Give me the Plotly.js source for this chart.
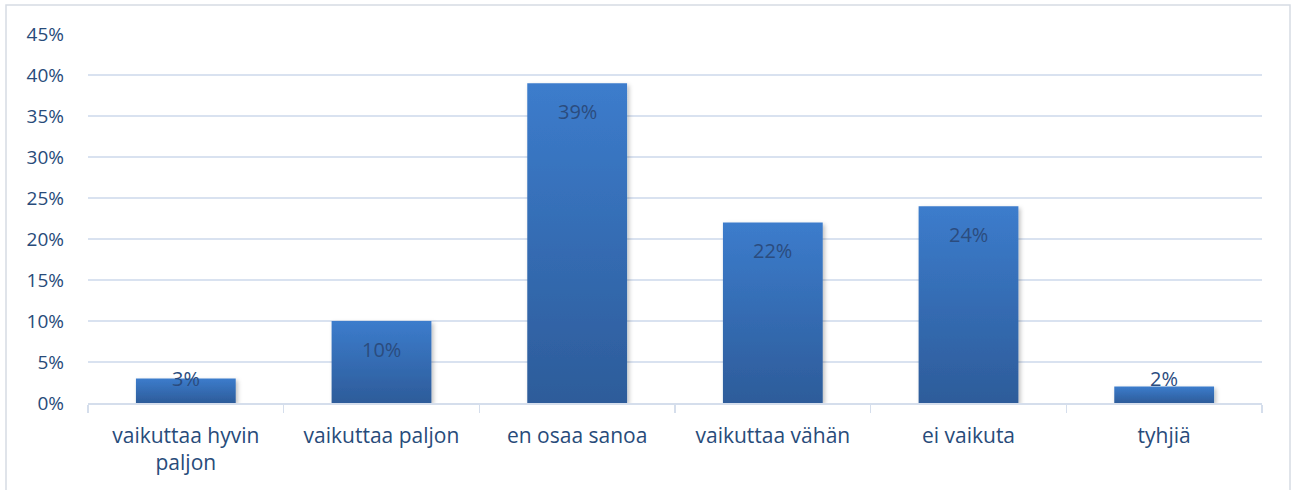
<!DOCTYPE html>
<html>
<head>
<meta charset="utf-8">
<script src="https://cdn.plot.ly/plotly-3.0.1.min.js"></script>
<style>html,body{margin:0;padding:0;background:#fff;}#chart{width:1292px;height:490px;}</style>
</head>
<body>
<div id="chart"></div>
<script>
const categories = ["vaikuttaa hyvin<br>paljon", "vaikuttaa paljon", "en osaa sanoa", "vaikuttaa vähän", "ei vaikuta", "tyhjiä"];
const values = [0.03, 0.10, 0.39, 0.22, 0.24, 0.02];
const labels = ["3%", "10%", "39%", "22%", "24%", "2%"];
const yTicks = [0, 0.05, 0.10, 0.15, 0.20, 0.25, 0.30, 0.35, 0.40, 0.45];
const yTickText = ["0%", "5%", "10%", "15%", "20%", "25%", "30%", "35%", "40%", "45%"];

const textColor = "#284B7A";
const fontFam = "Open Sans, Liberation Sans, sans-serif";

const L = 88, R = 30, T = 34, B = 87;
const W = 1292, H = 490;
const pw = W - L - R, ph = H - T - B;
const yMax = 0.45;

const trace = {
  type: "bar",
  x: categories,
  y: values,
  marker: {color: "#346AB5", line: {width: 0}},
  hoverinfo: "none"
};

// Labels sit just inside the bar top; short bars keep the label clear of the axis
const annotations = values.map(function (v, i) {
  const topPx = v / yMax * ph;          // bar height in pixels
  const shift = Math.max(-28, 25 - topPx);
  return {
    x: categories[i], y: v, xref: "x", yref: "y",
    text: labels[i], showarrow: false,
    yanchor: "middle", yshift: shift,
    font: {family: fontFam, size: 20, color: "#2B4C7E"}
  };
});

const layout = {
  width: W, height: H,
  margin: {l: L, r: R, t: T, b: B},
  paper_bgcolor: "#ffffff",
  plot_bgcolor: "#ffffff",
  showlegend: false,
  bargap: 0.49,
  font: {family: fontFam, color: textColor},
  xaxis: {
    type: "category",
    tickson: "boundaries",
    ticks: "outside",
    ticklen: 8,
    tickcolor: "#D5DEEC",
    tickwidth: 1.5,
    showline: true,
    linecolor: "#D5DEEC",
    linewidth: 1.5,
    showgrid: false,
    ticklabelstandoff: 13,
    tickfont: {family: fontFam, size: 21, color: textColor},
    automargin: false
  },
  yaxis: {
    range: [0, yMax],
    tickvals: yTicks,
    ticktext: yTickText,
    showgrid: true,
    gridcolor: "#D9E2F0",
    gridwidth: 1.5,
    zeroline: false,
    showline: false,
    ticks: "",
    ticklabelstandoff: 23,
    tickfont: {family: fontFam, size: 19, color: textColor},
    automargin: false
  },
  annotations: annotations,
  shapes: [{
    type: "rect", xref: "paper", yref: "paper",
    x0: (6 - L) / pw, x1: (1290 - L) / pw,
    y0: -(B + 20) / ph, y1: (H - 5 - B) / ph,
    line: {color: "#D6DCE4", width: 1.5},
    fillcolor: "rgba(0,0,0,0)",
    layer: "below"
  }]
};

Plotly.newPlot("chart", [trace], layout, {staticPlot: true}).then(function (gd) {
  const svg = gd.querySelector("svg.main-svg");
  const ns = "http://www.w3.org/2000/svg";
  let defs = svg.querySelector("defs");
  if (!defs) { defs = document.createElementNS(ns, "defs"); svg.insertBefore(defs, svg.firstChild); }
  const grad = document.createElementNS(ns, "linearGradient");
  grad.setAttribute("id", "barGrad");
  grad.setAttribute("x1", "0"); grad.setAttribute("y1", "0");
  grad.setAttribute("x2", "0"); grad.setAttribute("y2", "1");
  [["0%", "#3C7CCC"], ["100%", "#2D5C9A"]].forEach(function (s) {
    const st = document.createElementNS(ns, "stop");
    st.setAttribute("offset", s[0]); st.setAttribute("stop-color", s[1]);
    grad.appendChild(st);
  });
  defs.appendChild(grad);
  const filt = document.createElementNS(ns, "filter");
  filt.setAttribute("id", "barShadow");
  filt.setAttribute("x", "-10%"); filt.setAttribute("y", "-10%");
  filt.setAttribute("width", "130%"); filt.setAttribute("height", "130%");
  filt.innerHTML = '<feDropShadow dx="2" dy="2" stdDeviation="2" flood-color="#000" flood-opacity="0.25"/>';
  defs.appendChild(filt);
  gd.querySelectorAll(".bars .point path").forEach(function (p) {
    p.style.fill = "url(#barGrad)";
    p.setAttribute("filter", "url(#barShadow)");
  });
});
</script>
</body>
</html>
